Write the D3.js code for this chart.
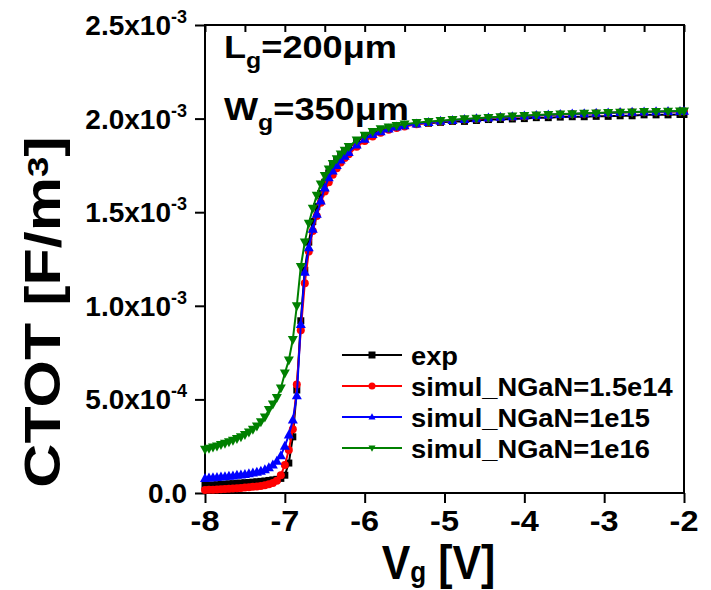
<!DOCTYPE html>
<html><head><meta charset="utf-8">
<script src="https://cdn.jsdelivr.net/npm/d3@7"></script>
<style>body{margin:0;background:#fff}svg{display:block}text{font-family:"Liberation Sans",Arial,sans-serif;font-weight:bold;fill:#000}</style>
</head><body><svg id="c" width="711" height="590"></svg>
<script>
// gate voltage grid (V)
const vg = [-8.0,-7.95,-7.9,-7.85,-7.8,-7.75,-7.7,-7.65,-7.6,-7.55,-7.5,-7.45,-7.4,-7.35,-7.3,
 -7.25,-7.2,-7.15,-7.1,-7.05,-7.0,-6.95,-6.9,-6.85,-6.8,-6.75,-6.7,-6.65,-6.6,-6.55,-6.5,-6.45,-6.4,-6.35,-6.3,-6.25,-6.2,
 -6.1,-6.0,-5.9,-5.8,-5.7,-5.6,-5.5,
 -5.35,-5.2,-5.05,-4.9,-4.75,-4.6,-4.45,-4.3,-4.15,-4.0,-3.85,-3.7,-3.55,-3.4,-3.25,-3.1,-2.95,-2.8,-2.65,-2.5,-2.35,-2.2,-2.05,-2.0];
// CTOT values in units of 1e-4 F/m^3
const cExp = [0.40,0.41,0.43,0.44,0.46,0.47,0.49,0.50,0.52,0.53,0.55,0.56,0.58,0.60,0.62,
 0.64,0.67,0.70,0.73,0.78,0.95,1.6,3.0,5.5,9.2,11.9,13.4,14.5,15.3,16.0,16.6,17.1,17.5,17.8,18.05,18.25,18.45,
 18.8,19.05,19.25,19.4,19.5,19.58,19.65,
 19.72,19.75,19.8,19.85,19.85,19.9,19.95,19.95,19.98,20.0,20.05,20.05,20.08,20.1,20.1,20.12,20.12,20.15,20.15,20.2,20.2,20.2,20.22,20.22];
const cN15e14 = [0.16,0.17,0.18,0.19,0.20,0.21,0.23,0.24,0.26,0.27,0.29,0.31,0.33,0.35,0.38,
 0.42,0.47,0.54,0.65,0.95,1.5,2.3,3.4,5.8,8.7,11.2,12.9,14.0,14.8,15.5,16.1,16.6,17.0,17.35,17.65,17.9,18.1,
 18.5,18.8,19.05,19.25,19.4,19.5,19.58,
 19.7,19.78,19.85,19.9,19.95,19.99,20.03,20.07,20.1,20.13,20.16,20.19,20.22,20.24,20.26,20.28,20.3,20.32,20.34,20.35,20.36,20.37,20.38,20.39];
const cN1e15 = [0.78,0.80,0.82,0.84,0.86,0.88,0.90,0.92,0.95,0.97,1.0,1.03,1.07,1.12,1.17,
 1.25,1.35,1.5,1.7,2.0,2.5,3.1,3.9,5.2,9.0,11.8,13.1,14.1,14.9,15.6,16.3,16.85,17.2,17.5,17.8,18.0,18.2,
 18.6,18.9,19.15,19.3,19.45,19.55,19.62,
 19.72,19.8,19.86,19.91,19.96,20.0,20.04,20.08,20.11,20.14,20.17,20.2,20.23,20.25,20.27,20.29,20.31,20.33,20.35,20.36,20.37,20.38,20.39,20.4];
const cN1e16 = [2.33,2.39,2.45,2.51,2.58,2.65,2.73,2.81,2.90,3.0,3.12,3.25,3.40,3.58,3.80,
 4.05,4.45,4.75,5.1,5.6,6.4,7.1,8.2,10.0,12.1,13.4,14.4,15.2,15.9,16.5,16.95,17.3,17.6,17.85,18.1,18.3,18.5,
 18.85,19.1,19.3,19.45,19.55,19.63,19.7,
 19.78,19.84,19.89,19.94,19.98,20.02,20.06,20.1,20.13,20.16,20.19,20.22,20.24,20.26,20.28,20.3,20.32,20.34,20.35,20.37,20.38,20.39,20.4,20.4];

const seriesNames = ["exp","simul_NGaN=1.5e14","simul_NGaN=1e15","simul_NGaN=1e16"];
const seriesColors = ["#000000","#ff0000","#0000ff","#008000"];
const seriesSymbols = ["square","circle","up","down"];
const seriesValues = [cExp, cN15e14, cN1e15, cN1e16];

const xTicks = [-8,-7,-6,-5,-4,-3,-2];
const xTickLabels = ["-8","-7","-6","-5","-4","-3","-2"];
const yTicks = [0,5e-4,1e-3,1.5e-3,2e-3,2.5e-3];
const yTickMant = ["0.0","5.0x10","1.0x10","1.5x10","2.0x10","2.5x10"];
const yTickExp = ["","-4","-3","-3","-3","-3"];

const svg = d3.select("#c");
const L=205,R=684,T=25,B=493;
const x = d3.scaleLinear().domain([-8,-2]).range([L,R]);
const y = d3.scaleLinear().domain([0,2.5e-3]).range([B,T]);

// frame
svg.append("rect").attr("x",L).attr("y",T).attr("width",R-L).attr("height",B-T)
  .attr("fill","none").attr("stroke","#000").attr("stroke-width",2);

// bottom axis
const gx = svg.append("g").attr("transform",`translate(0,${B})`);
gx.call(d3.axisBottom(x).tickValues(d3.range(-8,-1.99,0.5)).tickSize(6).tickFormat(""));
gx.call(d3.axisBottom(x).tickValues(xTicks).tickSize(10).tickFormat(""));
gx.selectAll(".domain").remove();
gx.selectAll("line").attr("stroke","#000").attr("stroke-width",2);
xTicks.forEach((v,i)=>{
  gx.append("text").attr("transform",`translate(${x(v)},38) scale(1.12,1)`).attr("text-anchor","middle")
    .style("font-size","29px").text(xTickLabels[i]);
});

// top ticks (inward)
const gt = svg.append("g").attr("transform",`translate(0,${T})`);
gt.call(d3.axisBottom(x).tickValues(d3.range(-8,-1.99,0.5)).tickSize(7).tickFormat(""));
gt.selectAll(".domain").remove();
gt.selectAll("line").attr("stroke","#000").attr("stroke-width",2);

// left axis
const gy = svg.append("g").attr("transform",`translate(${L},0)`);
gy.call(d3.axisLeft(y).tickValues(d3.range(0,2.51e-3,2.5e-4)).tickSize(6).tickFormat(""));
gy.call(d3.axisLeft(y).tickValues(yTicks).tickSize(10).tickFormat(""));
gy.selectAll(".domain").remove();
gy.selectAll("line").attr("stroke","#000").attr("stroke-width",2);
yTicks.forEach((v,i)=>{
  const t = gy.append("text").attr("transform",`translate(-18,${y(v)+10})`).attr("text-anchor","end").style("font-size","28px");
  t.append("tspan").text(yTickMant[i]);
  if(yTickExp[i]) t.append("tspan").attr("dy",-12).style("font-size","18px").text(yTickExp[i]);
});

// axis titles
const xt = svg.append("text").attr("transform",`translate(${(L+R)/2-6},579) scale(0.93,1.05)`).attr("text-anchor","middle").style("font-size","46px");
xt.append("tspan").text("V");
xt.append("tspan").attr("dy",3).style("font-size","28px").text("g");
xt.append("tspan").attr("dy",-3).text(" [V]");

const yt = svg.append("text").attr("transform","translate(60,312) rotate(-90) scale(1.22,1)").attr("text-anchor","middle").style("font-size","50px");
yt.append("tspan").text("CTOT [F/m");
yt.append("tspan").attr("dy",-12).style("font-size","30px").text("3");
yt.append("tspan").attr("dy",12).text("]");

// annotations
const a1 = svg.append("text").attr("transform","translate(224,58) scale(1.13,1)").style("font-size","32px");
a1.append("tspan").text("L"); a1.append("tspan").attr("dy",10).style("font-size","22px").text("g");
a1.append("tspan").attr("dy",-10).text("=200\u03bcm");
const a2 = svg.append("text").attr("transform","translate(224,120) scale(1.13,1)").style("font-size","32px");
a2.append("tspan").text("W"); a2.append("tspan").attr("dy",10).style("font-size","22px").text("g");
a2.append("tspan").attr("dy",-10).text("=350\u03bcm");

// symbols
function sym(type, size){
  if(type==="square") return d3.symbol(d3.symbolSquare, size*size)();
  if(type==="circle") return d3.symbol(d3.symbolCircle, Math.PI*size*size/4)();
  const h = size*0.9, w = size;
  if(type==="up") return `M0,${-h*0.6}L${w/2},${h*0.4}L${-w/2},${h*0.4}Z`;
  return `M0,${h*0.6}L${w/2},${-h*0.4}L${-w/2},${-h*0.4}Z`;
}
const sizes = [7,8,10,10];

const plot = svg.append("g");
seriesValues.forEach((vals,si)=>{
  const pts = vg.map((v,i)=>[v, vals[i]*1e-4]);
  plot.append("path").datum(pts).attr("fill","none").attr("stroke",seriesColors[si]).attr("stroke-width",2)
    .attr("d", d3.line().x(d=>x(d[0])).y(d=>y(d[1])));
  plot.selectAll(null).data(pts).enter().append("path")
    .attr("transform",d=>`translate(${x(d[0])},${y(d[1])})`)
    .attr("d", sym(seriesSymbols[si], sizes[si])).attr("fill",seriesColors[si]);
});

// legend
const legY = [355,386,417,448];
seriesNames.forEach((n,i)=>{
  const g = svg.append("g").attr("transform",`translate(0,${legY[i]})`);
  g.append("line").attr("x1",342).attr("x2",402).attr("y1",0).attr("y2",0).attr("stroke",seriesColors[i]).attr("stroke-width",2);
  g.append("path").attr("transform","translate(372,0)").attr("d",sym(seriesSymbols[i],7)).attr("fill",seriesColors[i]);
  g.append("text").attr("transform","translate(411,10) scale(1.05,1)").style("font-size","26px").text(n);
});
</script></body></html>
